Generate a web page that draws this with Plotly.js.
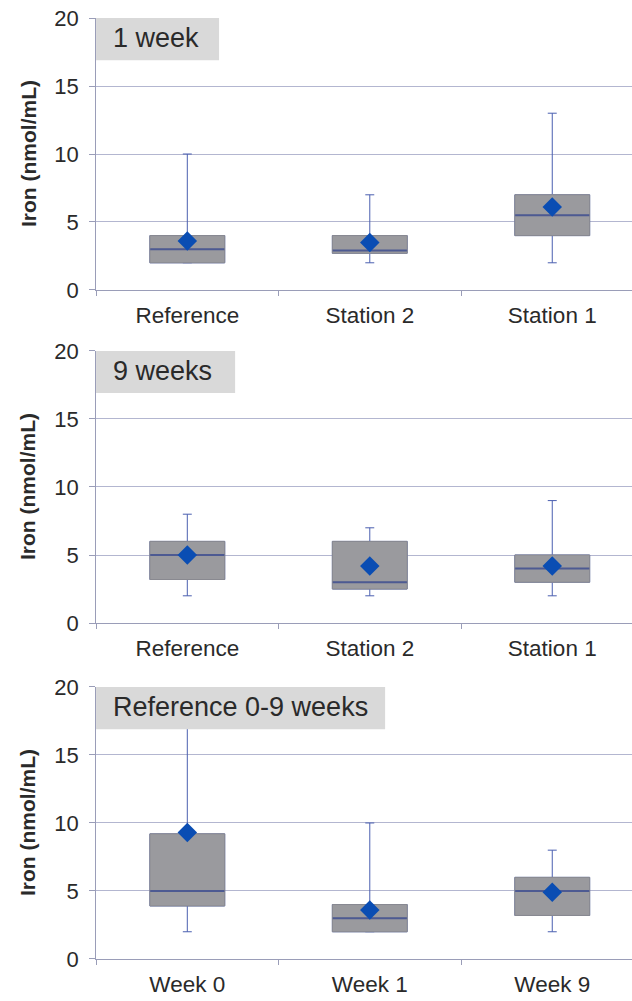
<!DOCTYPE html>
<html>
<head>
<meta charset="utf-8">
<script src="https://cdn.plot.ly/plotly-3.0.1.min.js"></script>
<style>html,body{margin:0;padding:0;background:#fff;}#chart{width:632px;height:1001px;}</style>
</head>
<body>
<div id="chart"></div>
<script>
// ---- data ----
const panelTitles = ["1 week", "9 weeks", "Reference 0-9 weeks"];
const cats1 = ["Reference", "Station 2", "Station 1"];
const cats2 = ["Reference", "Station 2", "Station 1"];
const cats3 = ["Week 0", "Week 1", "Week 9"];

const min1 = [2, 2, 2];
const q1_1 = [2, 2.7, 4];
const med1 = [3, 2.9, 5.5];
const q3_1 = [4, 4, 7];
const max1 = [10, 7, 13];
const mean1 = [3.6, 3.5, 6.1];

const min2 = [2, 2, 2];
const q1_2 = [3.2, 2.5, 3];
const med2 = [5, 3, 4];
const q3_2 = [6, 6, 5];
const max2 = [8, 7, 9];
const mean2 = [5.0, 4.2, 4.2];

const min3 = [2, 2, 2];
const q1_3 = [3.9, 2, 3.2];
const med3 = [5, 3, 5];
const q3_3 = [9.2, 4, 6];
const max3 = [18, 10, 8];
const mean3 = [9.3, 3.6, 4.9];

const yTicks = [0, 5, 10, 15, 20];
const yTitle = "Iron (nmol/mL)";

// ---- styles ----
const FONT = "Liberation Sans, Arial, sans-serif";
const gridCol = "#b3b6d0";
const axisCol = "#9a9db8";
const whiskCol = "#4a5fb0";
const boxFill = "#9a9a9e";
const boxLine = "#8a8a90";
const medCol = "#4d5a92";
const meanCol = "#0a4db3";
const BOXW = 0.41;

const panels = [
  {cats: cats1, mn: min1, q1: q1_1, md: med1, q3: q3_1, mx: max1, mean: mean1},
  {cats: cats2, mn: min2, q1: q1_2, md: med2, q3: q3_2, mx: max2, mean: mean2},
  {cats: cats3, mn: min3, q1: q1_3, md: med3, q3: q3_3, mx: max3, mean: mean3}
];
const domains = [[0.7103, 0.982], [0.3776, 0.6494], [0.042, 0.3137]];
const labelRight = [0.174, 0.262, 1.084];

const traces = [];
const layout = {
  width: 632, height: 1001,
  margin: {l: 0, r: 0, t: 0, b: 0},
  paper_bgcolor: "#ffffff", plot_bgcolor: "#ffffff",
  showlegend: false, boxmode: "overlay",
  font: {family: FONT, color: "#2a2a2a"},
  shapes: [], annotations: []
};

panels.forEach((p, i) => {
  const n = i === 0 ? "" : String(i + 1);
  const xa = "x" + n, ya = "y" + n;
  // whiskers
  traces.push({
    type: "box", xaxis: xa, yaxis: ya, x: p.cats,
    q1: p.q1, median: p.md, q3: p.q3, lowerfence: p.mn, upperfence: p.mx,
    width: BOXW, whiskerwidth: 0.12, fillcolor: "rgba(0,0,0,0)",
    line: {color: whiskCol, width: 1}, hoverinfo: "skip"
  });
  // box body
  traces.push({
    type: "box", xaxis: xa, yaxis: ya, x: p.cats,
    q1: p.q1, median: p.md, q3: p.q3, lowerfence: p.q1, upperfence: p.q3,
    width: BOXW, whiskerwidth: 0, fillcolor: boxFill,
    line: {color: boxLine, width: 1}, hoverinfo: "skip"
  });
  // median
  traces.push({
    type: "scatter", mode: "markers", xaxis: xa, yaxis: ya, x: p.cats, y: p.md,
    marker: {symbol: "line-ew", size: 53, line: {color: medCol, width: 2}},
    hoverinfo: "skip"
  });
  // mean
  traces.push({
    type: "scatter", mode: "markers", xaxis: xa, yaxis: ya, x: p.cats, y: p.mean,
    marker: {symbol: "diamond", size: 15, color: meanCol}, hoverinfo: "skip"
  });

  layout["xaxis" + n] = {
    anchor: ya, domain: [0.152, 1], type: "category", categoryorder: "array", categoryarray: p.cats,
    range: [-0.5, 2.437], showgrid: false, zeroline: false,
    showline: true, linecolor: axisCol, linewidth: 1,
    ticks: "outside", ticklen: 5, tickcolor: axisCol, tickson: "boundaries",
    tickfont: {family: FONT, size: 22.5, color: "#2a2a2a"}, ticklabelstandoff: 5, fixedrange: true
  };
  layout["yaxis" + n] = {
    anchor: xa, domain: domains[i], range: [0, 20], tickvals: yTicks,
    showgrid: true, gridcolor: gridCol, gridwidth: 1, zeroline: false,
    showline: true, linecolor: axisCol, linewidth: 1,
    ticks: "outside", ticklen: 6, tickcolor: axisCol,
    tickfont: {family: FONT, size: 22, color: "#2a2a2a"}, ticklabelstandoff: 6, fixedrange: true
  };
  layout.shapes.push({
    type: "rect", xref: xa, yref: ya, x0: -0.5, x1: labelRight[i], y0: 16.9, y1: 20,
    fillcolor: "#d9d9d9", line: {width: 0}, layer: "above"
  });
  layout.annotations.push({
    xref: xa, yref: ya, x: -0.5, y: 18.5, xanchor: "left", yanchor: "middle", xshift: 15,
    text: panelTitles[i], showarrow: false, font: {family: FONT, size: 27, color: "#2a2a2a"}
  });
  layout.annotations.push({
    xref: "paper", yref: ya, x: 28 / 632, y: 10, xanchor: "center", yanchor: "middle",
    text: "<b>" + yTitle + "</b>", textangle: -90, showarrow: false,
    font: {family: FONT, size: 21, color: "#2a2a2a"}
  });
});

Plotly.newPlot("chart", traces, layout, {staticPlot: true, displayModeBar: false});
</script>
</body>
</html>
